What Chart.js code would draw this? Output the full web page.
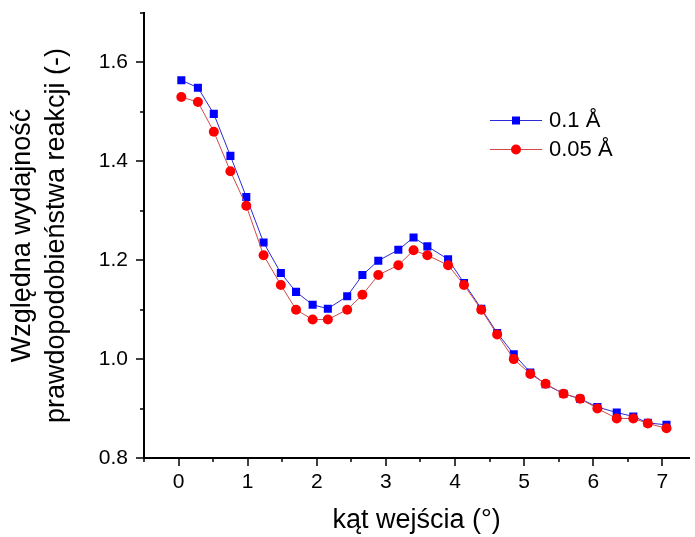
<!DOCTYPE html>
<html lang="pl">
<head>
<meta charset="utf-8">
<title>Względna wydajność prawdopodobieństwa reakcji</title>
<script src="https://cdn.jsdelivr.net/npm/chart.js@4/dist/chart.umd.min.js"></script>
<style>
  html, body { margin: 0; padding: 0; background: #ffffff; overflow: hidden; }
  canvas { display: block; }
</style>
</head>
<body>
<canvas id="chart" width="695" height="537"></canvas>
<script>
// Kąt wejścia (stopnie)
const angles = [0.04, 0.28, 0.51, 0.75, 0.98, 1.23, 1.48, 1.70, 1.94, 2.16,
                2.44, 2.66, 2.89, 3.18, 3.40, 3.60, 3.90, 4.13, 4.38, 4.61,
                4.85, 5.09, 5.31, 5.57, 5.81, 6.06, 6.34, 6.58, 6.79, 7.06];

// Względna wydajność dla kroku 0.1 Å
const yieldStep01 = [1.564, 1.549, 1.496, 1.411, 1.328, 1.236, 1.174, 1.136, 1.110, 1.102,
                     1.127, 1.170, 1.199, 1.221, 1.246, 1.228, 1.202, 1.154, 1.102, 1.053,
                     1.010, 0.973, 0.949, 0.930, 0.920, 0.903, 0.892, 0.884, 0.871, 0.867];

// Względna wydajność dla kroku 0.05 Å
const yieldStep005 = [1.53, 1.52, 1.46, 1.38, 1.31, 1.21, 1.15, 1.10, 1.08, 1.08,
                      1.10, 1.13, 1.17, 1.19, 1.22, 1.21, 1.19, 1.15, 1.10, 1.05,
                      1.00, 0.97, 0.95, 0.93, 0.92, 0.90, 0.88, 0.88, 0.87, 0.86];

const seriesLabels = ['0.1 Å', '0.05 Å'];

// Podziałki osi
const xMajorTicks = [0, 1, 2, 3, 4, 5, 6, 7];
const xMinorTicks = [-0.5, 0.5, 1.5, 2.5, 3.5, 4.5, 5.5, 6.5];
const yMajorTicks = [0.8, 1.0, 1.2, 1.4, 1.6];
const yMinorTicks = [0.9, 1.1, 1.3, 1.5, 1.7];

const FONT = '"Liberation Sans", Arial, sans-serif';
const BLUE = '#0000ff';
const BLUE_LINE = '#2a2ad8';
const RED = '#ff0000';
const RED_LINE = '#d04848';

const toPoints = (xs, ys) => xs.map((x, i) => ({ x: x, y: ys[i] }));

// Zewnętrzne znaczniki podziałki (główne i pomocnicze)
const tickMarks = {
  id: 'tickMarks',
  afterDraw(chart) {
    const { ctx, chartArea, scales } = chart;
    const xs = scales.x, ys = scales.y;
    ctx.save();
    ctx.strokeStyle = '#000';
    ctx.lineWidth = 1.5;
    ctx.beginPath();
    const drawX = (v, len) => {
      const px = Math.round(xs.getPixelForValue(v));
      if (px < chartArea.left - 1 || px > chartArea.right + 1) return;
      ctx.moveTo(px, chartArea.bottom);
      ctx.lineTo(px, chartArea.bottom + len);
    };
    const drawY = (v, len) => {
      const py = Math.round(ys.getPixelForValue(v));
      if (py < chartArea.top - 1 || py > chartArea.bottom + 1) return;
      ctx.moveTo(chartArea.left, py);
      ctx.lineTo(chartArea.left - len, py);
    };
    xMajorTicks.forEach(v => drawX(v, 8));
    xMinorTicks.forEach(v => drawX(v, 4));
    yMajorTicks.forEach(v => drawY(v, 8));
    yMinorTicks.forEach(v => drawY(v, 4));
    ctx.stroke();
    ctx.restore();
  }
};

// Legenda wewnątrz obszaru wykresu
const innerLegend = {
  id: 'innerLegend',
  afterDraw(chart) {
    const { ctx } = chart;
    const rows = [
      { label: seriesLabels[0], line: BLUE_LINE, fill: BLUE, shape: 'rect', y: 120 },
      { label: seriesLabels[1], line: RED_LINE, fill: RED, shape: 'circle', y: 149 }
    ];
    ctx.save();
    rows.forEach(r => {
      ctx.strokeStyle = r.line;
      ctx.lineWidth = 1;
      ctx.beginPath();
      ctx.moveTo(490, r.y + 0.5);
      ctx.lineTo(542, r.y + 0.5);
      ctx.stroke();
      ctx.fillStyle = r.fill;
      if (r.shape === 'rect') {
        ctx.fillRect(512, r.y - 3.5, 8, 8);
      } else {
        ctx.beginPath();
        ctx.arc(516, r.y + 0.5, 5, 0, Math.PI * 2);
        ctx.fill();
      }
      ctx.fillStyle = '#000';
      ctx.font = '22px ' + FONT;
      ctx.textAlign = 'left';
      ctx.textBaseline = 'middle';
      ctx.fillText(r.label, 549, r.y + 1);
    });
    ctx.restore();
  }
};

new Chart(document.getElementById('chart'), {
  type: 'line',
  data: {
    datasets: [
      {
        label: seriesLabels[0],
        data: toPoints(angles, yieldStep01),
        borderColor: BLUE_LINE,
        borderWidth: 1,
        backgroundColor: BLUE,
        pointStyle: 'rect',
        pointRadius: 5.7,
        pointBorderWidth: 0,
        pointBackgroundColor: BLUE,
        pointBorderColor: BLUE,
        tension: 0,
        order: 2
      },
      {
        label: seriesLabels[1],
        data: toPoints(angles, yieldStep005),
        borderColor: RED_LINE,
        borderWidth: 1,
        backgroundColor: RED,
        pointStyle: 'circle',
        pointRadius: 5,
        pointBorderWidth: 0,
        pointBackgroundColor: RED,
        pointBorderColor: RED,
        tension: 0,
        order: 1
      }
    ]
  },
  options: {
    responsive: false,
    animation: false,
    events: [],
    layout: { padding: { top: 13, right: 0, bottom: 0, left: 0 } },
    plugins: {
      legend: { display: false },
      tooltip: { enabled: false }
    },
    scales: {
      x: {
        type: 'linear',
        min: -0.5,
        max: 7.39,
        afterBuildTicks(scale) { scale.ticks = xMajorTicks.map(v => ({ value: v })); },
        afterFit(scale) {
          scale.height = 79;
          scale.paddingLeft = 0;
          scale.paddingRight = 0;
        },
        grid: { display: false, drawTicks: false },
        border: { display: true, color: '#000', width: 2 },
        ticks: {
          color: '#000',
          font: { family: FONT, size: 21 },
          padding: 12,
          maxRotation: 0,
          autoSkip: false,
          callback: v => String(v)
        },
        title: {
          display: true,
          text: 'kąt wejścia (°)',
          color: '#000',
          font: { family: FONT, size: 27 },
          padding: { top: 0, bottom: 0 }
        }
      },
      y: {
        type: 'linear',
        min: 0.8,
        max: 1.7,
        afterBuildTicks(scale) { scale.ticks = yMajorTicks.map(v => ({ value: v })); },
        afterFit(scale) {
          scale.width = 144;
          scale.paddingTop = 0;
          scale.paddingBottom = 0;
        },
        grid: { display: false, drawTicks: false },
        border: { display: true, color: '#000', width: 2 },
        ticks: {
          color: '#000',
          font: { family: FONT, size: 21 },
          padding: 16,
          autoSkip: false,
          callback: v => Number(v).toFixed(1)
        },
        title: {
          display: true,
          text: ['Względna wydajność', 'prawdopodobieństwa reakcji (-)'],
          color: '#000',
          font: { family: FONT, size: 27, lineHeight: 1.25 },
          padding: { top: 6, bottom: 0 }
        }
      }
    }
  },
  plugins: [tickMarks, innerLegend]
});
</script>
</body>
</html>
